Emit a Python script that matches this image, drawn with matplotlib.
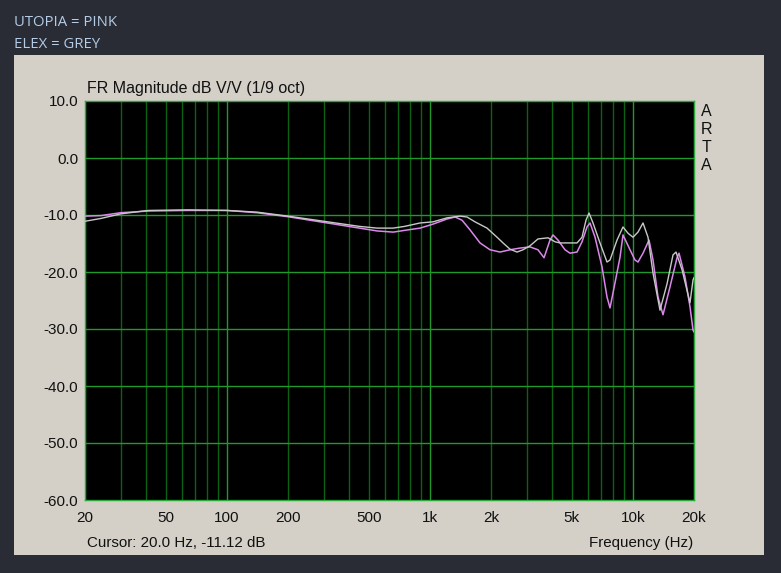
"""ARTA-style frequency response plot: Utopia vs Elex."""

import matplotlib

matplotlib.use("Agg")
import matplotlib.pyplot as plt
from matplotlib.patches import Rectangle
from matplotlib.ticker import FixedLocator, NullFormatter

W, H = 781, 573

# Frequenzgang ELEX (grau)
elex_freq = [20, 24, 30, 41, 64, 100, 141, 200, 300, 450, 550, 660, 750,
             894, 1036, 1214, 1408, 1524, 1668, 1912, 2142, 2292, 2482, 2687,
             2876, 3113, 3408, 3819, 4135, 4376, 4900, 5306, 5615, 5876, 6081,
             6362, 6886, 7456, 7715, 8352, 8938, 9462, 10013, 10598, 11218,
             11870, 12564, 13600, 14724, 15762, 16308, 17460, 19114, 19776,
             20000]
elex_db = [-11.1, -10.6, -9.8, -9.2, -9.1, -9.2, -9.5, -10.2, -11.1, -12.0,
           -12.3, -12.3, -12.0, -11.4, -11.2, -10.5, -10.2, -10.35, -11.2,
           -12.3, -13.9, -14.9, -16.0, -16.5, -16.1, -15.4, -14.2, -14.0,
           -14.7, -14.9, -14.9, -14.9, -13.9, -10.9, -9.65, -11.4, -14.9,
           -18.25, -17.9, -14.4, -12.1, -13.2, -13.9, -13.0, -11.4, -13.9,
           -20.2, -26.7, -22.1, -17.0, -16.5, -19.6, -25.4, -21.4, -21.0]

# Frequenzgang UTOPIA (pink)
utopia_freq = [20, 24, 30, 41, 64, 100, 141, 200, 300, 450, 550, 660, 750,
               894, 1036, 1214, 1330, 1439, 1576, 1766, 1978, 2215, 2482, 2780,
               3113, 3408, 3649, 3906, 4041, 4276, 4630, 4900, 5306, 5615, 5943,
               6150, 6508, 7045, 7456, 7715, 8164, 8642, 8938, 9679, 10244,
               10598, 11218, 12006, 12564, 13297, 14072, 15234, 16496, 16874,
               18062, 19114, 19776, 20000]
utopia_db = [-10.2, -10.1, -9.6, -9.3, -9.2, -9.2, -9.6, -10.3, -11.3, -12.3,
             -12.8, -13.0, -12.7, -12.3, -11.6, -10.7, -10.35, -10.9, -12.6,
             -14.9, -16.1, -16.5, -16.1, -15.8, -15.6, -16.1, -17.5, -14.4,
             -13.5, -14.4, -16.1, -16.7, -16.5, -14.7, -12.1, -11.4, -13.9,
             -19.1, -24.4, -26.3, -21.9, -17.4, -13.5, -16.1, -17.9, -18.25,
             -16.7, -14.4, -17.9, -24.4, -27.5, -22.6, -17.5, -16.7, -20.9,
             -26.1, -30.2, -30.5]

y_ticks = [10, 0, -10, -20, -30, -40, -50, -60]
x_major = [100, 1000, 10000]
x_labels = {20: "20", 50: "50", 100: "100", 200: "200", 500: "500",
            1000: "1k", 2000: "2k", 5000: "5k", 10000: "10k", 20000: "20k"}
x_minor = [m * d for d in (10, 100, 1000) for m in range(2, 10)] + [20000]

BG = "#292c35"
PANEL = "#d4d0c8"
GRID_MAJOR = "#1f9a2a"
GRID_MINOR = "#0b6213"
TXT = "#111111"

fig = plt.figure(figsize=(W / 100, H / 100), dpi=100, facecolor=BG)


def fx(px):
    return px / W


def fy(py):
    return 1 - py / H


# Graues Fenster
panel = Rectangle((fx(14), fy(555)), fx(750), 500 / H,
                  transform=fig.transFigure, facecolor=PANEL,
                  edgecolor="none", zorder=-5)
fig.add_artist(panel)

# Legende oben links
fig.text(fx(14), fy(22), "UTOPIA = PINK", color="#b4cce6", fontsize=10.7,
         family="Open Sans", va="center", ha="left")
fig.text(fx(14), fy(44), "ELEX = GREY", color="#b4cce6", fontsize=10.7,
         family="Open Sans", va="center", ha="left")

ax = fig.add_axes([fx(85), fy(500), fx(609), 399 / H])
ax.set_zorder(2)
ax.set_facecolor("black")
ax.set_xscale("log")
ax.set_xlim(20, 20000)
ax.set_ylim(-60, 10)

for f in x_minor:
    ax.axvline(f, color=GRID_MINOR, lw=1.0, zorder=1)
for f in x_major:
    ax.axvline(f, color=GRID_MAJOR, lw=1.0, zorder=1)
for d in y_ticks[1:-1]:
    ax.axhline(d, color=GRID_MAJOR, lw=1.0, zorder=1)

ax.plot(utopia_freq, utopia_db, color="#dc86ec", lw=1.1, zorder=3,
        solid_joinstyle="round")
ax.plot(elex_freq, elex_db, color="#c8c8c8", lw=1.0, zorder=4,
        solid_joinstyle="round")

for s in ax.spines.values():
    s.set_color("#2aa83a")
    s.set_linewidth(1.0)

ax.xaxis.set_major_locator(FixedLocator(list(x_labels.keys())))
ax.set_xticklabels(list(x_labels.values()))
ax.xaxis.set_minor_formatter(NullFormatter())
ax.set_yticks(y_ticks)
ax.set_yticklabels([f"{v:.1f}" for v in y_ticks])
ax.tick_params(which="both", length=0, labelsize=11, colors=TXT)
ax.tick_params(axis="x", pad=8)
ax.tick_params(axis="y", pad=5)
for lab in ax.get_xticklabels() + ax.get_yticklabels():
    lab.set_family("Liberation Sans")

fig.text(fx(87), fy(88), "FR Magnitude dB V/V (1/9 oct)", fontsize=11.5,
         family="Liberation Sans", color=TXT, va="center", ha="left")
fig.text(fx(87), fy(543), "Cursor: 20.0 Hz, -11.12 dB", fontsize=10.9,
         family="Liberation Sans", color=TXT, va="center", ha="left")
fig.text(fx(693), fy(543), "Frequency (Hz)", fontsize=10.9,
         family="Liberation Sans", color=TXT, va="center", ha="right")
for i, ch in enumerate("ARTA"):
    fig.text(fx(706), fy(111 + i * 18), ch, fontsize=11.5,
             family="Liberation Sans", color=TXT, va="center", ha="center")

fig.savefig("out.png", dpi=100, facecolor=BG)
